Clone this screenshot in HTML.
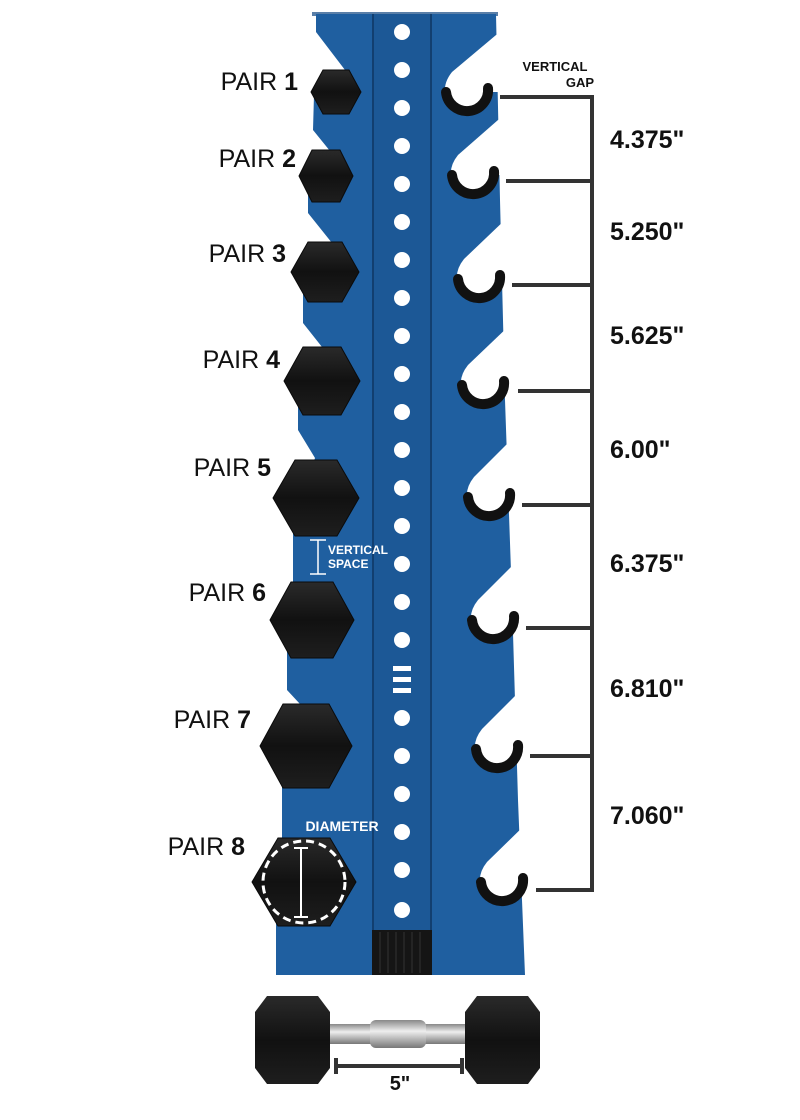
<!DOCTYPE html>
<html><head><meta charset="utf-8"><style>
html,body{margin:0;padding:0;background:#fff;}
svg{display:block;}
text{font-family:"Liberation Sans",sans-serif;}
</style></head><body>
<svg width="800" height="1120" viewBox="0 0 800 1120" xmlns="http://www.w3.org/2000/svg">
<defs>
<linearGradient id="hx" x1="0" y1="0" x2="0" y2="1"><stop offset="0" stop-color="#2a2a2a"/><stop offset="0.5" stop-color="#111"/><stop offset="1" stop-color="#1e1e1e"/></linearGradient>
<linearGradient id="bar" x1="0" y1="0" x2="0" y2="1"><stop offset="0" stop-color="#888"/><stop offset="0.4" stop-color="#eee"/><stop offset="1" stop-color="#777"/></linearGradient>
</defs>
<rect x="312" y="12" width="186" height="4" fill="#5a7fa8"/>
<polygon fill="#1f5fa0" points="316,14 496,14 500,200 505,400 512,600 518,800 525,975 276,975 276,880 282,838 282,760 300,704 287,690 287,640 293,600 293,520 315,458 298,430 298,400 322,347 303,323 303,290 332,243 308,213 308,190 330,151 313,130 314,95 345,70 316,32"/>
<g fill="#fff">
<path d="M502,30 L452,72 Q444,82 445,92 L490,92 L502,92 Z"/>
<path d="M506,113 L458,155 Q450,165 451,175 L496,175 L506,175 Z"/>
<path d="M508,217 L464,259 Q456,269 457,279 L502,279 L508,279 Z"/>
<path d="M512,323 L468,365 Q460,375 461,385 L506,385 L512,385 Z"/>
<path d="M516,435 L474,477 Q466,487 467,497 L512,497 L516,497 Z"/>
<path d="M520,558 L478,600 Q470,610 471,620 L516,620 L520,620 Z"/>
<path d="M524,687 L482,729 Q474,739 475,749 L520,749 L524,749 Z"/>
<path d="M530,820 L487,862 Q479,872 480,882 L525,882 L530,882 Z"/>
<circle cx="467" cy="90" r="18"/>
<circle cx="473" cy="173" r="18"/>
<circle cx="479" cy="277" r="18"/>
<circle cx="483" cy="383" r="18"/>
<circle cx="489" cy="495" r="18"/>
<circle cx="493" cy="618" r="18"/>
<circle cx="497" cy="747" r="18"/>
<circle cx="502" cy="880" r="18"/>
</g>
<rect x="372" y="14" width="60" height="961" fill="#1c5896"/>
<line x1="373" y1="14" x2="373" y2="975" stroke="#123f70" stroke-width="2"/>
<line x1="431" y1="14" x2="431" y2="975" stroke="#123f70" stroke-width="2"/>
<g fill="#fff">
<circle cx="402" cy="32" r="8"/><circle cx="402" cy="70" r="8"/><circle cx="402" cy="108" r="8"/><circle cx="402" cy="146" r="8"/><circle cx="402" cy="184" r="8"/><circle cx="402" cy="222" r="8"/><circle cx="402" cy="260" r="8"/><circle cx="402" cy="298" r="8"/><circle cx="402" cy="336" r="8"/><circle cx="402" cy="374" r="8"/><circle cx="402" cy="412" r="8"/><circle cx="402" cy="450" r="8"/><circle cx="402" cy="488" r="8"/><circle cx="402" cy="526" r="8"/><circle cx="402" cy="564" r="8"/><circle cx="402" cy="602" r="8"/><circle cx="402" cy="640" r="8"/><circle cx="402" cy="718" r="8"/><circle cx="402" cy="756" r="8"/><circle cx="402" cy="794" r="8"/><circle cx="402" cy="832" r="8"/><circle cx="402" cy="870" r="8"/><circle cx="402" cy="910" r="8"/>
<rect x="393" y="666" width="18" height="5"/><rect x="393" y="677" width="18" height="5"/><rect x="393" y="688" width="18" height="5"/>
</g>
<rect x="372" y="930" width="60" height="45" fill="#151515"/>
<g stroke="#333" stroke-width="1"><line x1="380" y1="932" x2="380" y2="973"/><line x1="388" y1="932" x2="388" y2="973"/><line x1="396" y1="932" x2="396" y2="973"/><line x1="404" y1="932" x2="404" y2="973"/><line x1="412" y1="932" x2="412" y2="973"/><line x1="420" y1="932" x2="420" y2="973"/></g>
<g fill="none" stroke="#111" stroke-width="10" stroke-linecap="round">
<path d="M446,92 A21,21 0 0 0 488,88"/>
<path d="M452,175 A21,21 0 0 0 494,171"/>
<path d="M458,279 A21,21 0 0 0 500,275"/>
<path d="M462,385 A21,21 0 0 0 504,381"/>
<path d="M468,497 A21,21 0 0 0 510,493"/>
<path d="M472,620 A21,21 0 0 0 514,616"/>
<path d="M476,749 A21,21 0 0 0 518,745"/>
<path d="M481,882 A21,21 0 0 0 523,878"/>
</g>
<g stroke="#333" stroke-width="4" fill="none">
<line x1="500" y1="97" x2="592" y2="97"/>
<line x1="506" y1="181" x2="592" y2="181"/>
<line x1="512" y1="285" x2="592" y2="285"/>
<line x1="518" y1="391" x2="592" y2="391"/>
<line x1="522" y1="505" x2="592" y2="505"/>
<line x1="526" y1="628" x2="592" y2="628"/>
<line x1="530" y1="756" x2="592" y2="756"/>
<line x1="536" y1="890" x2="592" y2="890"/>
<line x1="592" y1="95" x2="592" y2="892"/>
</g>
<g font-weight="bold" font-size="25" fill="#111">
<text x="610" y="148">4.375"</text>
<text x="610" y="240">5.250"</text>
<text x="610" y="344">5.625"</text>
<text x="610" y="458">6.00"</text>
<text x="610" y="572">6.375"</text>
<text x="610" y="697">6.810"</text>
<text x="610" y="824">7.060"</text>
</g>
<text x="555" y="71" font-size="13" font-weight="bold" text-anchor="middle" fill="#111">VERTICAL</text>
<text x="580" y="87" font-size="13" font-weight="bold" text-anchor="middle" fill="#111">GAP</text>
<g fill="url(#hx)" stroke="#0a0a0a" stroke-width="1">
<polygon points="311,92 323,70 349,70 361,92 349,114 323,114"/>
<polygon points="299,176 312,150 340,150 353,176 340,202 312,202"/>
<polygon points="291,272 308,242 342,242 359,272 342,302 308,302"/>
<polygon points="284,381 303,347 341,347 360,381 341,415 303,415"/>
<polygon points="273,498 295,460 337,460 359,498 337,536 295,536"/>
<polygon points="270,620 291,582 333,582 354,620 333,658 291,658"/>
<polygon points="260,746 283,704 329,704 352,746 329,788 283,788"/>
<polygon points="252,882 278,838 330,838 356,882 330,926 278,926"/>
</g>
<circle cx="304" cy="882" r="41" fill="none" stroke="#fff" stroke-width="3" stroke-dasharray="8,5"/>
<g stroke="#fff" stroke-width="2"><line x1="301" y1="848" x2="301" y2="917"/><line x1="294" y1="848" x2="308" y2="848"/><line x1="294" y1="917" x2="308" y2="917"/></g>
<text x="342" y="831" font-size="14" font-weight="bold" fill="#fff" text-anchor="middle">DIAMETER</text>
<g stroke="#fff" stroke-width="1.5"><line x1="318" y1="540" x2="318" y2="574"/><line x1="310" y1="540" x2="326" y2="540"/><line x1="310" y1="574" x2="326" y2="574"/></g>
<text x="328" y="554" font-size="12" font-weight="bold" fill="#fff">VERTICAL</text>
<text x="328" y="568" font-size="12" font-weight="bold" fill="#fff">SPACE</text>
<g font-size="25" fill="#111" text-anchor="end">
<text x="298" y="90">PAIR <tspan font-weight="bold">1</tspan></text>
<text x="296" y="167">PAIR <tspan font-weight="bold">2</tspan></text>
<text x="286" y="262">PAIR <tspan font-weight="bold">3</tspan></text>
<text x="280" y="368">PAIR <tspan font-weight="bold">4</tspan></text>
<text x="271" y="476">PAIR <tspan font-weight="bold">5</tspan></text>
<text x="266" y="601">PAIR <tspan font-weight="bold">6</tspan></text>
<text x="251" y="728">PAIR <tspan font-weight="bold">7</tspan></text>
<text x="245" y="855">PAIR <tspan font-weight="bold">8</tspan></text>
</g>
<rect x="328" y="1024" width="140" height="20" fill="url(#bar)"/>
<rect x="370" y="1020" width="56" height="28" rx="6" fill="url(#bar)"/>
<polygon points="255,1012 267,996 318,996 330,1012 330,1068 318,1084 267,1084 255,1068" fill="url(#hx)"/>
<polygon points="465,1012 477,996 528,996 540,1012 540,1068 528,1084 477,1084 465,1068" fill="url(#hx)"/>
<g stroke="#333" stroke-width="4"><line x1="336" y1="1066" x2="462" y2="1066"/><line x1="336" y1="1058" x2="336" y2="1074"/><line x1="462" y1="1058" x2="462" y2="1074"/></g>
<text x="400" y="1090" font-size="20" font-weight="bold" fill="#111" text-anchor="middle">5"</text>
</svg>
</body></html>
